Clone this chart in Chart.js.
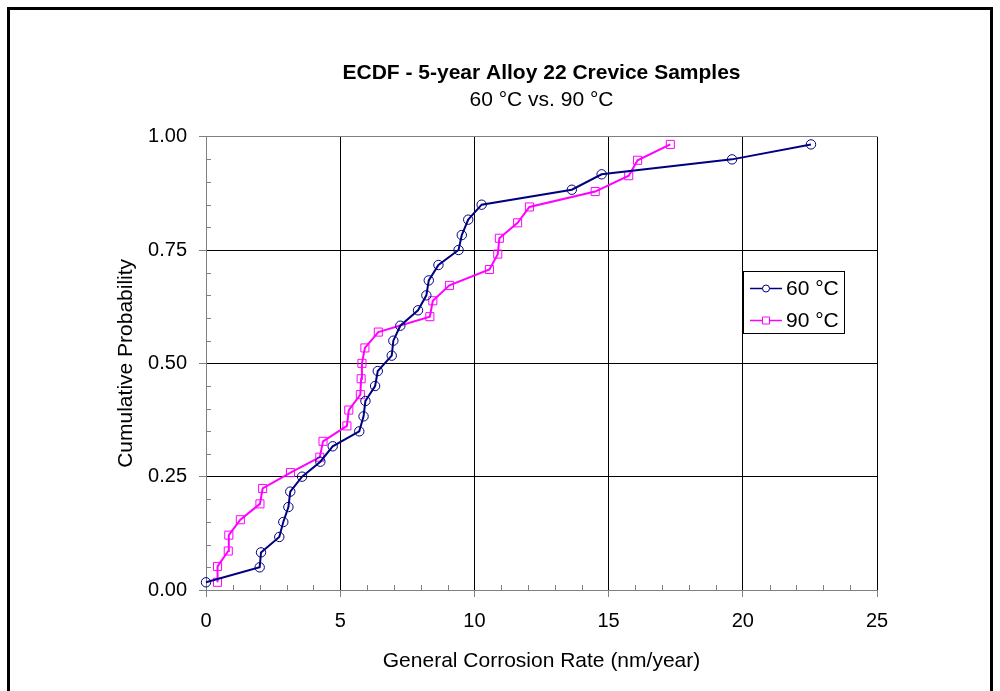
<!DOCTYPE html>
<html>
<head>
<meta charset="utf-8">
<title>ECDF - 5-year Alloy 22 Crevice Samples</title>
<script src="https://cdn.jsdelivr.net/npm/chart.js@4/dist/chart.umd.min.js"></script>
<style>
  html, body { margin: 0; padding: 0; background: #fff; }
  #wrap { position: relative; width: 1000px; height: 691px; overflow: hidden; }
  #wrap canvas { position: absolute; left: 0; top: 0; }
  #frame { position: absolute; left: 7px; top: 7px; width: 986px; height: 720px;
           border: 3px solid #000; box-sizing: border-box; pointer-events: none; }
</style>
</head>
<body>
<div id="wrap">
  <canvas id="chart" width="1000" height="691"></canvas>
  <div id="frame"></div>
</div>
<script>
// Corrosion rate (nm/year) of each sample, sorted, with its plotting position
const rate60 = [0.00, 2.00, 2.05, 2.73, 2.88, 3.07, 3.14, 3.58, 4.26, 4.72,
                5.71, 5.87, 5.94, 6.30, 6.40, 6.92, 6.98, 7.24, 7.90, 8.21,
                8.30, 8.66, 9.41, 9.53, 9.77, 10.27, 13.63, 14.74, 19.60, 22.54];
const prob60 = [0.017, 0.050, 0.083, 0.117, 0.150, 0.183, 0.217, 0.250, 0.283, 0.317,
                0.350, 0.383, 0.417, 0.450, 0.483, 0.517, 0.550, 0.583, 0.617, 0.650,
                0.683, 0.717, 0.750, 0.783, 0.817, 0.850, 0.883, 0.917, 0.950, 0.983];

const rate90 = [0.43, 0.43, 0.83, 0.85, 1.28, 2.01, 2.11, 3.15, 4.24, 4.36,
                5.25, 5.32, 5.75, 5.78, 5.81, 5.92, 6.42, 8.34, 8.45, 9.07,
                10.56, 10.87, 10.93, 11.61, 12.05, 14.50, 15.75, 16.08, 17.30];
const prob90 = [0.017, 0.052, 0.086, 0.121, 0.155, 0.190, 0.224, 0.259, 0.293, 0.328,
                0.362, 0.397, 0.431, 0.466, 0.500, 0.534, 0.569, 0.603, 0.638, 0.672,
                0.707, 0.741, 0.776, 0.810, 0.845, 0.879, 0.914, 0.948, 0.983];

const seriesNames = ['60 °C', '90 °C'];
const xTickLabels = ['0', '5', '10', '15', '20', '25'];
const yTickLabels = ['0.00', '0.25', '0.50', '0.75', '1.00'];
const titleText = 'ECDF - 5-year Alloy 22 Crevice Samples';
const subtitleText = '60 °C vs. 90 °C';
const xAxisTitle = 'General Corrosion Rate (nm/year)';
const yAxisTitle = 'Cumulative Probability';

const toPoints = (xs, ys) => xs.map((x, i) => ({ x: x, y: ys[i] }));

Chart.defaults.font.family = '"Liberation Sans", Arial, Helvetica, sans-serif';
Chart.defaults.color = '#000';

const AXIS_GREY = '#808080';
const CLEAR = 'rgba(0,0,0,0)';

// Small inward tick marks between the labelled ticks
const minorTicks = {
  id: 'minorTicks',
  afterDraw(chart) {
    const { ctx } = chart;
    const xs = chart.scales.x, ys = chart.scales.y;
    ctx.save();
    ctx.strokeStyle = AXIS_GREY;
    ctx.lineWidth = 1;
    ctx.beginPath();
    for (let v = 1; v < 25; v++) {
      if (v % 5 === 0) continue;
      const px = Math.round(xs.getPixelForValue(v)) + 0.5;
      ctx.moveTo(px, ys.bottom);
      ctx.lineTo(px, ys.bottom - 5);
    }
    for (let k = 1; k < 20; k++) {
      if (k % 5 === 0) continue;
      const py = Math.round(ys.getPixelForValue(k / 20)) + 0.5;
      ctx.moveTo(xs.left, py);
      ctx.lineTo(xs.left + 5, py);
    }
    ctx.stroke();
    ctx.restore();
  }
};

// Boxed legend sitting inside the plot, right of centre
const boxedLegend = {
  id: 'boxedLegend',
  afterDraw(chart) {
    const { ctx } = chart;
    const x0 = 743, y0 = 271, w = 101, h = 62;
    ctx.save();
    ctx.fillStyle = '#fff';
    ctx.fillRect(x0, y0, w, h);
    ctx.strokeStyle = '#000';
    ctx.lineWidth = 1;
    ctx.strokeRect(x0 + 0.5, y0 + 0.5, w, h);
    chart.data.datasets.forEach((ds, i) => {
      const cy = y0 + 17.5 + i * 32;
      const mx = x0 + 23;
      ctx.strokeStyle = ds.borderColor;
      ctx.lineWidth = 1.5;
      ctx.beginPath();
      ctx.moveTo(x0 + 7, cy);
      ctx.lineTo(x0 + 39, cy);
      ctx.stroke();
      ctx.lineWidth = 1;
      ctx.beginPath();
      if (ds.pointStyle === 'rect') {
        ctx.rect(mx - 3.5, cy - 3.5, 7, 7);
      } else {
        ctx.arc(mx, cy, 3.5, 0, Math.PI * 2);
      }
      ctx.fillStyle = '#fff';
      ctx.fill();
      ctx.stroke();
      ctx.fillStyle = '#000';
      ctx.font = '21px "Liberation Sans", Arial, sans-serif';
      ctx.textAlign = 'left';
      ctx.textBaseline = 'middle';
      ctx.fillText(ds.label, x0 + 43, cy + 1);
    });
    ctx.restore();
  }
};

new Chart(document.getElementById('chart'), {
  type: 'scatter',
  data: {
    datasets: [
      {
        label: seriesNames[0],
        data: toPoints(rate60, prob60),
        showLine: true,
        tension: 0,
        borderColor: '#000080',
        borderWidth: 2,
        pointStyle: 'circle',
        pointRadius: 4.7,
        pointBorderWidth: 1,
        pointBorderColor: '#000080',
        pointBackgroundColor: CLEAR,
        clip: false
      },
      {
        label: seriesNames[1],
        data: toPoints(rate90, prob90),
        showLine: true,
        tension: 0,
        borderColor: '#ff00ff',
        borderWidth: 2,
        pointStyle: 'rect',
        pointRadius: 5.7,
        pointBorderWidth: 1,
        pointBorderColor: '#ff00ff',
        pointBackgroundColor: CLEAR,
        clip: false
      }
    ]
  },
  options: {
    responsive: false,
    animation: false,
    devicePixelRatio: 1,
    layout: { padding: { left: 0, top: 0, right: 123, bottom: 0 } },
    plugins: {
      legend: { display: false },
      tooltip: { enabled: false },
      title: {
        display: true,
        text: titleText,
        fullSize: false,
        font: { size: 21, weight: 'bold' },
        color: '#000',
        padding: { top: 61, bottom: 0 }
      },
      subtitle: {
        display: true,
        text: subtitleText,
        fullSize: false,
        font: { size: 21, weight: 'normal' },
        color: '#000',
        padding: { top: 1, bottom: 24.3 }
      }
    },
    scales: {
      x: {
        type: 'linear',
        min: 0,
        max: 25,
        afterFit(scale) { scale.height = 101; },
        ticks: {
          stepSize: 5,
          font: { size: 20 },
          color: '#000',
          padding: 12,
          maxRotation: 0,
          callback: (v, i) => xTickLabels[i]
        },
        grid: {
          color: (c) => (c.tick && c.tick.value === 0 ? CLEAR : '#000'),
          lineWidth: 1,
          tickLength: 7,
          tickColor: AXIS_GREY,
          drawTicks: true
        },
        border: { color: AXIS_GREY, width: 1 },
        title: {
          display: true,
          text: xAxisTitle,
          font: { size: 21 },
          color: '#000',
          padding: { top: 0, bottom: 17 }
        }
      },
      y: {
        type: 'linear',
        min: 0,
        max: 1,
        afterFit(scale) { scale.width = 206; },
        ticks: {
          stepSize: 0.25,
          font: { size: 20 },
          color: '#000',
          padding: 12,
          callback: (v, i) => yTickLabels[i]
        },
        grid: {
          color: (c) => {
            if (!c.tick) return '#000';
            if (c.tick.value === 0) return CLEAR;
            if (c.tick.value === 1) return AXIS_GREY;
            return '#000';
          },
          lineWidth: 1,
          tickLength: 7,
          tickColor: AXIS_GREY,
          drawTicks: true
        },
        border: { color: AXIS_GREY, width: 1 },
        title: {
          display: true,
          text: yAxisTitle,
          font: { size: 21 },
          color: '#000',
          padding: { top: 114, bottom: 0 }
        }
      }
    }
  },
  plugins: [minorTicks, boxedLegend]
});
</script>
</body>
</html>
